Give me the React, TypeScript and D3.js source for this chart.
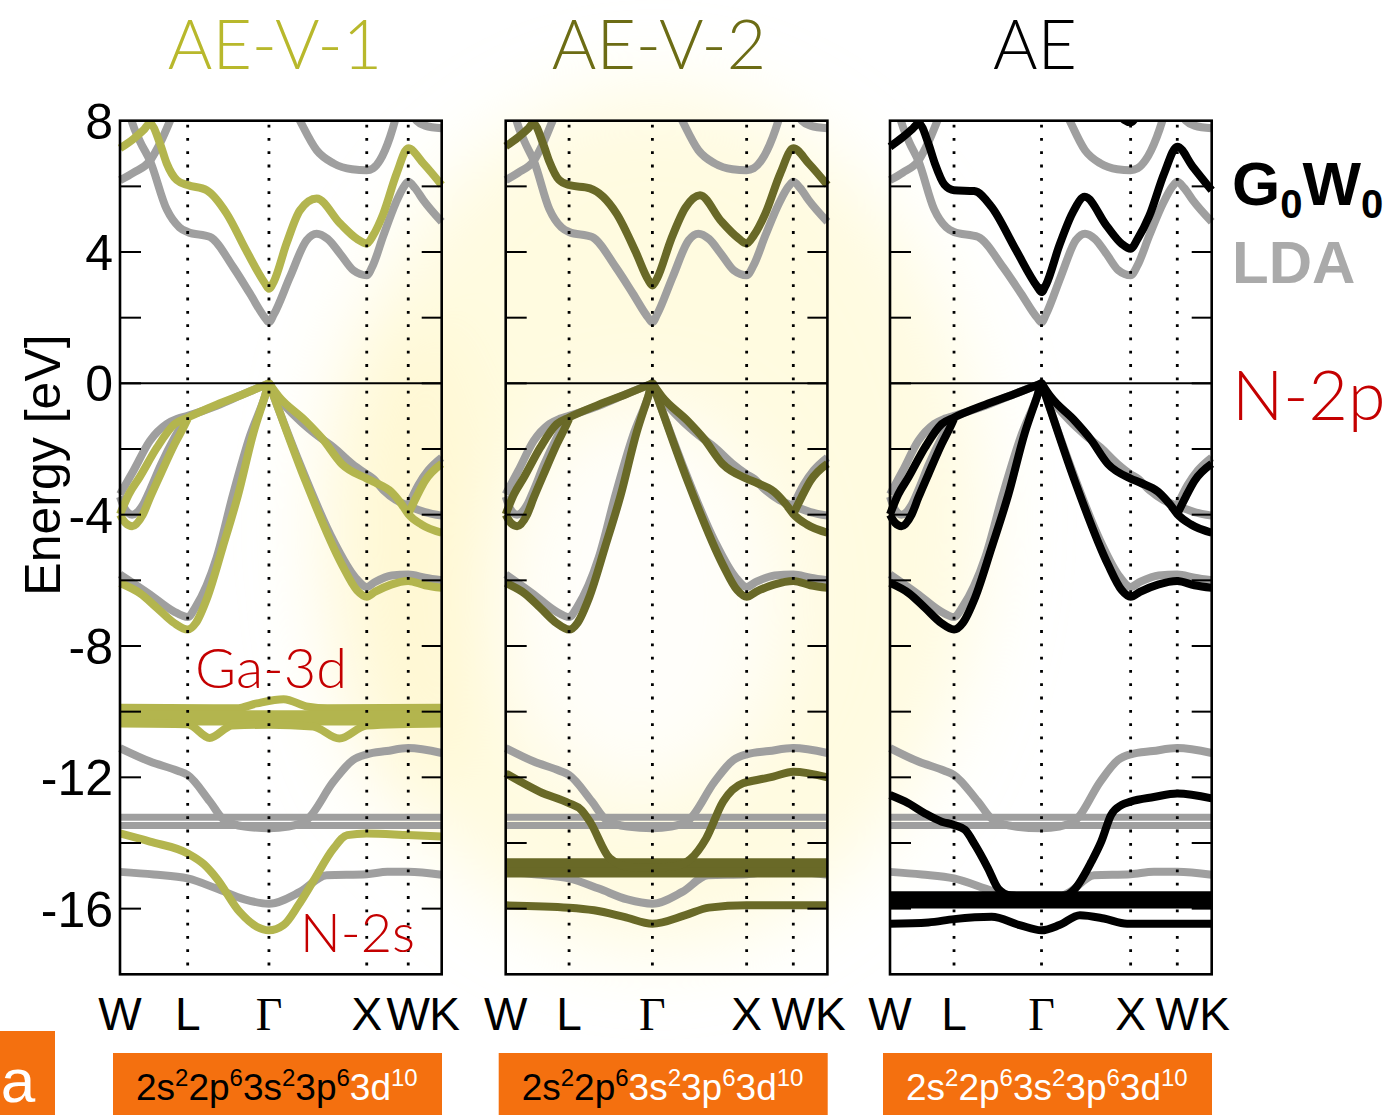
import React from 'react';
import * as d3 from 'd3';

type Pt = [number, number];

// ---------- labels ----------
const panelTitles = ['AE-V-1', 'AE-V-2', 'AE'];
const kLabels = ['W', 'L', 'Γ', 'X', 'W', 'K'];
const yTickLabels = [8, 4, 0, -4, -8, -12, -16];
const yTicksAll = [-16, -14, -12, -10, -8, -6, -4, -2, 0, 2, 4, 6];
const configParts = [
  ['2s', '2'], ['2p', '6'], ['3s', '2'], ['3p', '6'], ['3d', '10'],
];
const whiteFrom = [4, 2, 0];

// k-path fractional positions of W L Γ X W K in each panel
const kFrac1 = [0, 0.2104, 0.463, 0.767, 0.896, 1];
const kFrac2 = [0, 0.197, 0.456, 0.749, 0.894, 1];
const kFrac3 = [0, 0.199, 0.471, 0.748, 0.893, 1];

// ---------- LDA bands (k in segment units: W=0 L=1 Γ=2 X=3 W=4 K=5) ----------
const ldaC1: Pt[] = [[0, 6.19], [0.2, 6.42], [0.443, 6.78], [0.6, 7.35], [0.74, 8.0], [0.9, 8.8]];
const ldaC2: Pt[] = [[0, 9.6], [0.17, 8.0], [0.3, 7.35], [0.443, 6.78], [0.69, 5.3], [0.88, 4.75], [1, 4.61], [1.274, 4.46], [1.56, 3.54], [1.767, 2.73], [1.95, 2.0], [2, 1.86], [2.05, 2.1], [2.215, 3.24], [2.385, 4.36], [2.488, 4.56], [2.6, 4.4], [2.727, 3.95], [2.864, 3.44], [3, 3.29], [3.15, 3.6], [3.4, 4.5], [3.7, 5.5], [3.9, 6.0], [4, 6.14], [4.2, 5.95], [4.45, 5.58], [5, 4.92]];
const ldaC3: Pt[] = [[2.2, 8.7], [2.317, 8.0], [2.488, 7.1], [2.66, 6.7], [2.85, 6.52], [3, 6.49], [3.15, 6.55], [3.32, 6.8], [3.56, 7.5], [3.68, 8.0], [3.8, 8.6]];
const ldaC4: Pt[] = [[4.0, 8.4], [4.25, 8.0], [4.5, 7.85], [5, 7.77]];
const ldaV1: Pt[] = [[0, -3.38], [0.197, -2.67], [0.443, -1.75], [0.69, -1.24], [0.85, -1.08], [1, -0.99], [1.357, -0.68], [1.684, -0.33], [2, 0]];
const ldaV2: Pt[] = [[0, -3.45], [0.08, -3.85], [0.18, -4.0], [0.339, -3.7], [0.443, -3.25], [0.6, -2.5], [0.807, -1.65], [0.95, -1.15], [1, -1.0]];
const ldaV3: Pt[] = [[0, -5.82], [0.443, -6.43], [0.79, -6.94], [1, -7.12], [1.1, -6.8], [1.357, -5.3], [1.562, -3.35], [1.767, -1.6], [1.95, -0.4], [2, 0], [2.05, -0.4], [2.317, -2.46], [2.66, -4.8], [2.88, -5.9], [3, -6.2], [3.2, -6.05], [3.6, -5.85], [4, -5.82], [4.5, -5.92], [5, -6.0]];
const ldaV4: Pt[] = [[2, 0], [2.1, -0.45], [2.317, -1.14], [2.5, -1.6], [2.66, -1.95], [2.85, -2.45], [3, -2.77], [3.15, -2.9], [3.4, -3.25], [3.7, -3.55], [4, -3.73], [4.5, -3.92], [5, -4.03]];
const ldaV5: Pt[] = [[4, -3.73], [4.3, -3.1], [4.6, -2.65], [5, -2.26]];
const ldaS1: Pt[] = [[0, -11.11], [0.443, -11.52], [0.85, -11.8], [1, -11.93], [1.274, -12.74], [1.44, -13.28], [1.7, -13.5], [2, -13.55], [2.2, -13.5], [2.385, -13.3], [2.66, -12.13], [2.86, -11.47], [3, -11.3], [3.48, -11.2], [4, -11.11], [5, -11.26]];
const ldaS2: Pt[] = [[0, -14.88], [0.5, -14.96], [1, -15.08], [1.357, -15.39], [1.7, -15.72], [2, -15.85], [2.317, -15.49], [2.59, -14.98], [3, -14.95], [3.5, -14.88], [4, -14.88], [5, -14.97]];
const ldaD1: Pt[] = [[0, -13.22], [5, -13.22]];
const ldaD2: Pt[] = [[0, -13.47], [5, -13.47]];
const ldaBands = [ldaC1, ldaC2, ldaC3, ldaC4, ldaV1, ldaV2, ldaV3, ldaV4, ldaV5, ldaS1, ldaS2];
const ldaThick = [ldaD1, ldaD2];

// ---------- G0W0 valence (common) ----------
const gwV1: Pt[] = [[0, -3.99], [0.13, -3.38], [0.286, -2.87], [0.547, -1.95], [0.807, -1.24], [1, -1.04], [1.357, -0.65], [1.684, -0.33], [2, 0]];
const gwV2: Pt[] = [[0, -4.0], [0.08, -4.25], [0.18, -4.35], [0.339, -3.99], [0.443, -3.48], [0.599, -2.77], [0.807, -1.85], [0.963, -1.24], [1, -1.08]];
const gwV3: Pt[] = [[0, -6.08], [0.3, -6.4], [0.547, -6.84], [0.8, -7.3], [1, -7.5], [1.1, -7.3], [1.24, -6.53], [1.43, -5.0], [1.62, -3.4], [1.81, -1.5], [1.95, -0.4], [2, 0], [2.05, -0.4], [2.373, -2.97], [2.746, -5.52], [2.9, -6.3], [3, -6.5], [3.2, -6.35], [3.585, -6.13], [4, -6.02], [4.5, -6.15], [5, -6.23]];
const gwV4: Pt[] = [[2, 0], [2.1, -0.4], [2.373, -1.14], [2.55, -1.7], [2.746, -2.46], [3, -2.9], [3.2, -3.02], [3.585, -3.3], [3.85, -3.7], [4, -3.98], [4.4, -4.3], [5, -4.55]];
const gwV5: Pt[] = [[4, -3.98], [4.25, -3.45], [4.5, -2.97], [5, -2.45]];
const gwValence = [gwV1, gwV2, gwV3, gwV4, gwV5];

// ---------- G0W0 conduction per panel ----------
const gwCond1: Pt[] = [[0, 7.16], [0.2, 7.45], [0.35, 7.72], [0.443, 7.92], [0.59, 7.31], [0.69, 6.7], [0.84, 6.19], [1, 6.04], [1.234, 5.88], [1.48, 5.17], [1.72, 4.05], [1.95, 3.05], [2, 2.88], [2.05, 3.1], [2.18, 4.26], [2.317, 5.27], [2.488, 5.63], [2.727, 4.87], [2.9, 4.4], [3, 4.26], [3.15, 4.5], [3.4, 5.17], [3.72, 6.39], [4, 7.16], [4.45, 6.7], [5, 6.04]];
const gwCond2: Pt[] = [[0, 7.22], [0.2, 7.5], [0.35, 7.75], [0.436, 7.92], [0.59, 7.3], [0.69, 6.75], [0.84, 6.2], [1, 6.04], [1.25, 5.94], [1.57, 5.17], [1.8, 4.0], [1.95, 3.15], [2, 2.98], [2.05, 3.2], [2.2, 4.4], [2.35, 5.35], [2.505, 5.73], [2.727, 4.95], [2.9, 4.45], [3, 4.26], [3.15, 4.5], [3.4, 5.17], [3.72, 6.39], [4, 7.16], [4.45, 6.7], [5, 6.04]];
const gwCond3: Pt[] = [[0, 7.21], [0.2, 7.5], [0.35, 7.75], [0.45, 7.92], [0.6, 7.3], [0.7, 6.7], [0.85, 6.05], [1, 5.88], [1.23, 5.86], [1.43, 5.37], [1.7, 4.1], [1.95, 2.95], [2, 2.78], [2.05, 3.0], [2.2, 4.2], [2.35, 5.2], [2.485, 5.68], [2.73, 4.8], [2.9, 4.25], [3, 4.1], [3.15, 4.4], [3.4, 5.1], [3.72, 6.4], [4, 7.21], [4.45, 6.6], [5, 5.88]];
const gwCond3b: Pt[] = [[2.85, 8.3], [2.93, 8.02], [3, 7.95], [3.07, 8.02], [3.15, 8.3]];

// ---------- G0W0 semicore per panel ----------
const gw1S: Pt[] = [[0, -13.71], [0.443, -13.96], [1, -14.32], [1.2, -14.65], [1.357, -15.08], [1.64, -16.1], [1.85, -16.55], [2, -16.66], [2.15, -16.5], [2.3, -15.9], [2.45, -15.18], [2.66, -14.17], [2.8, -13.76], [3, -13.71], [4, -13.76], [5, -13.8]];
const gw1D1: Pt[] = [[0, -9.88], [1.6, -9.9], [1.85, -9.75], [2.15, -9.62], [2.4, -9.85], [2.6, -9.9], [5, -9.88]];
const gw1D2: Pt[] = [[0, -10.08], [5, -10.08]];
const gw1D3: Pt[] = [[0, -10.3], [5, -10.3]];
const gw1D4: Pt[] = [[0, -10.36], [1.0, -10.38], [1.27, -10.8], [1.55, -10.42], [2.0, -10.4], [2.45, -10.45], [2.72, -10.82], [3.0, -10.42], [5, -10.36]];

const gw2U: Pt[] = [[0, -11.88], [0.54, -12.44], [1, -12.79], [1.15, -13.0], [1.25, -13.35], [1.49, -14.47], [1.73, -14.73], [2, -14.75], [2.25, -14.7], [2.4, -14.5], [2.57, -13.86], [2.75, -12.74], [2.96, -12.18], [3, -12.15], [3.57, -11.98], [4, -11.83], [5, -12.0]];
const gw2D1: Pt[] = [[0, -14.62], [5, -14.62]];
const gw2D2: Pt[] = [[0, -14.9], [5, -14.9]];
const gw2S: Pt[] = [[0, -15.9], [1, -15.97], [1.3, -16.05], [1.66, -16.25], [2, -16.46], [2.35, -16.2], [2.6, -15.97], [3, -15.9], [5, -15.9]];

const gw3U: Pt[] = [[0, -12.54], [0.286, -12.79], [0.547, -13.1], [0.807, -13.35], [1, -13.45], [1.125, -13.6], [1.24, -14.06], [1.39, -14.78], [1.505, -15.39], [1.65, -15.6], [2, -15.65], [2.25, -15.62], [2.373, -15.4], [2.56, -14.57], [2.67, -13.96], [2.78, -13.15], [2.9, -12.84], [3, -12.74], [3.5, -12.6], [4, -12.49], [5, -12.64]];
const gw3D1: Pt[] = [[0, -15.62], [5, -15.62]];
const gw3D2: Pt[] = [[0, -15.84], [5, -15.84]];
const gw3S: Pt[] = [[0, -16.46], [0.6, -16.42], [1, -16.32], [1.43, -16.25], [1.75, -16.5], [2, -16.66], [2.2, -16.5], [2.43, -16.2], [2.7, -16.3], [2.96, -16.46], [5, -16.46]];

// ---------- layout / style ----------
const PANEL_LEFT = [120, 505.7, 890];
const PANEL_W = 321.7;
const TOP = 120.7;
const BOTTOM = 974.3;
const TITLE_X = [275, 659, 1035];
const BAND_COLORS = ['#b3b54e', '#696927', '#000000'];
const TITLE_COLORS = ['#b8b82c', '#6c6c14', '#000000'];
const GRAY = '#9f9f9f';
const ORANGE = '#f4700f';
const RED = '#c40000';
const THIN_FONT = "'Lato', 'Open Sans', 'Liberation Sans', sans-serif";
const SANS = "'Liberation Sans', Arial, sans-serif";

const panels = [
  { frac: kFrac1, bands: [gwCond1, ...gwValence, gw1S], thick: [gw1D1, gw1D2, gw1D3], mid: [gw1D4], thickW: 8 },
  { frac: kFrac2, bands: [gwCond2, ...gwValence, gw2U, gw2S], thick: [gw2D1, gw2D2], mid: [], thickW: 10 },
  { frac: kFrac3, bands: [gwCond3, gwCond3b, ...gwValence, gw3U, gw3S], thick: [gw3D1, gw3D2], mid: [], thickW: 10 },
];

const y = d3.scaleLinear().domain([-18, 8]).range([BOTTOM, TOP]);

function Panel({ idx }: { idx: number }) {
  const p = panels[idx];
  const left = PANEL_LEFT[idx];
  const right = left + PANEL_W;
  const x = d3.scaleLinear().domain([0, 1, 2, 3, 4, 5]).range(p.frac.map((f) => left + f * PANEL_W));
  const line = d3.line<Pt>().x((d) => x(d[0])).y((d) => y(d[1])).curve(d3.curveMonotoneX);
  const col = BAND_COLORS[idx];
  const clipId = `clip${idx}`;
  return (
    <g>
      <defs>
        <clipPath id={clipId}>
          <rect x={left - 5} y={TOP} width={PANEL_W + 10} height={BOTTOM - TOP} />
        </clipPath>
      </defs>
      <g clipPath={`url(#${clipId})`} fill="none" strokeLinejoin="round">
        {ldaBands.map((b, i) => (
          <path key={'l' + i} d={line(b) || ''} stroke={GRAY} strokeWidth={8} />
        ))}
        {ldaThick.map((b, i) => (
          <path key={'lt' + i} d={line(b) || ''} stroke={GRAY} strokeWidth={7} />
        ))}
        {p.thick.map((b, i) => (
          <path key={'gt' + i} d={line(b) || ''} stroke={col} strokeWidth={p.thickW} />
        ))}
        {p.mid.map((b, i) => (
          <path key={'gm' + i} d={line(b) || ''} stroke={col} strokeWidth={8} />
        ))}
        {p.bands.map((b, i) => (
          <path key={'g' + i} d={line(b) || ''} stroke={col} strokeWidth={8} />
        ))}
      </g>
      {[1, 2, 3, 4].map((k) => (
        <line key={'d' + k} x1={x(k)} x2={x(k)} y1={TOP + 4} y2={BOTTOM} stroke="#000" strokeWidth={2.8} strokeDasharray="2.8 10.5" />
      ))}
      <line x1={left} x2={right} y1={y(0)} y2={y(0)} stroke="#000" strokeWidth={2} />
      {yTicksAll.map((t) => (
        <g key={'t' + t}>
          <line x1={left} x2={left + 21} y1={y(t)} y2={y(t)} stroke="#000" strokeWidth={2} />
          <line x1={right - 20} x2={right} y1={y(t)} y2={y(t)} stroke="#000" strokeWidth={2} />
        </g>
      ))}
      <rect x={left} y={TOP} width={PANEL_W} height={BOTTOM - TOP} fill="none" stroke="#000" strokeWidth={2.6} />
      {kLabels.map((lab, k) => (
        <text
          key={'k' + k}
          x={x(k) + (k === 5 ? 3 : 0)}
          y={1030}
          textAnchor="middle"
          fontSize={46}
          fontFamily={lab === 'Γ' ? "'Liberation Serif', 'Times New Roman', serif" : SANS}
          fill="#000"
        >
          {lab}
        </text>
      ))}
      <text x={TITLE_X[idx]} y={69} textAnchor="middle" fontSize={68} fontWeight={300} fontFamily={THIN_FONT} fill={TITLE_COLORS[idx]}>
        {panelTitles[idx]}
      </text>
      <rect x={left - 7} y={1053} width={329} height={62} fill={ORANGE} />
      <text x={left + PANEL_W / 2 - 4} y={1100} textAnchor="middle" fontSize={37} fontFamily={SANS}>
        {configParts.map((cp, i) => {
          const c = i >= whiteFrom[idx] ? '#ffffff' : '#000000';
          return (
            <React.Fragment key={'cp' + i}>
              <tspan fill={c} dy={i === 0 ? 0 : 14}>{cp[0]}</tspan>
              <tspan fill={c} fontSize={24} dy={-14}>{cp[1]}</tspan>
            </React.Fragment>
          );
        })}
      </text>
    </g>
  );
}

export default function App() {
  return (
    <svg width={1396} height={1115} viewBox="0 0 1396 1115" style={{ display: 'block', position: 'absolute', left: 0, top: 0, background: '#fff' }}>
      <defs>
        <filter id="blur" x="-50%" y="-50%" width="200%" height="200%">
          <feGaussianBlur stdDeviation="40" />
        </filter>
      </defs>
      <rect x={0} y={0} width={1396} height={1115} fill="#fff" />
      <g filter="url(#blur)">
        <ellipse cx={655} cy={520} rx={330} ry={430} fill="#fff8cc" opacity={0.6} />
        <ellipse cx={640} cy={600} rx={140} ry={190} fill="#ffffff" opacity={0.85} />
        <ellipse cx={410} cy={560} rx={80} ry={250} fill="#fff5c0" opacity={0.4} />
      </g>
      {[0, 1, 2].map((i) => (
        <Panel key={i} idx={i} />
      ))}
      {yTickLabels.map((t) => (
        <text key={'yl' + t} x={113} y={y(t) + 18} textAnchor="end" fontSize={50} fontFamily={SANS} fill="#000">
          {t}
        </text>
      ))}
      <text transform="translate(60,465) rotate(-90)" textAnchor="middle" fontSize={50} fontFamily={SANS} fill="#000">
        Energy [eV]
      </text>
      <text x={1232} y={205} fontSize={62} fontWeight="bold" fontFamily={SANS} fill="#000">
        G<tspan fontSize={40} dy={13}>0</tspan>
        <tspan dy={-13}>W</tspan>
        <tspan fontSize={40} dy={13}>0</tspan>
      </text>
      <text x={1232} y={283} fontSize={60} fontWeight="bold" fontFamily={SANS} fill="#aaaaaa">
        LDA
      </text>
      <text x={1232} y={420} fontSize={68} fontWeight={300} fontFamily={THIN_FONT} fill={RED}>
        N-2p
      </text>
      <text x={195} y={688} fontSize={56} fontWeight={300} fontFamily={THIN_FONT} fill={RED}>
        Ga-3d
      </text>
      <text x={300} y={952} fontSize={54} fontWeight={300} fontFamily={THIN_FONT} fill={RED}>
        N-2s
      </text>
      <rect x={0} y={1031} width={55} height={84} fill={ORANGE} />
      <text x={18} y={1102} textAnchor="middle" fontSize={62} fontFamily={SANS} fill="#fff">
        a
      </text>
    </svg>
  );
}
